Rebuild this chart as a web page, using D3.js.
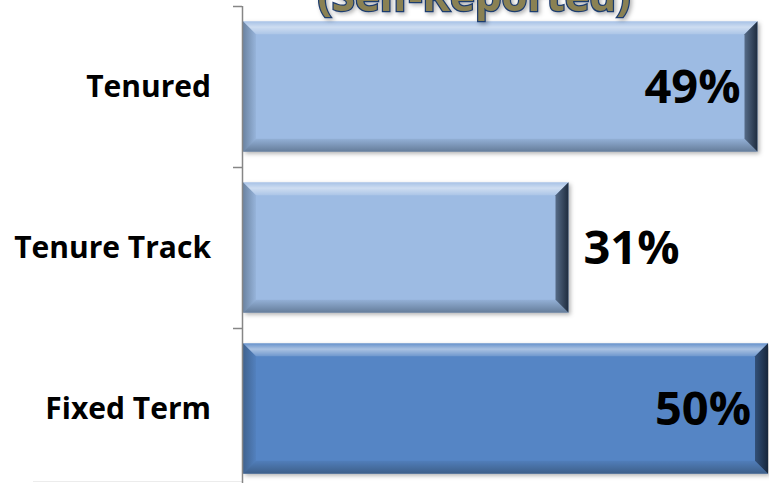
<!DOCTYPE html>
<meta charset="utf-8">
<style>
body { margin: 0; background: #fff; }
text { font-family: "Open Sans", sans-serif; font-weight: 700; }
</style>
<svg width="769" height="483"></svg>
<script src="https://d3js.org/d3.v7.min.js"></script>
<script>

var categories = ["Tenured", "Tenure Track", "Fixed Term"];
var values = [49, 31, 50];
var fills = ["#9dbbe3", "#9dbbe3", "#5585c5"];
var title = "(Self-Reported)";

var svg = d3.select("svg");

var x0 = 243;
var x = d3.scaleLinear()
    .domain([0, 50])
    .range([x0, x0 + 525]);

var y = d3.scaleBand()
    .domain(categories)
    .range([6, 489])
    .paddingInner(0.19)
    .paddingOuter(0.095);

var defs = svg.append("defs");

function grad(id, x1, y1, x2, y2, stops) {
  var g = defs.append("linearGradient").attr("id", id)
      .attr("x1", x1).attr("y1", y1).attr("x2", x2).attr("y2", y2);
  stops.forEach(function(s) {
    g.append("stop").attr("offset", s[0]).attr("stop-color", s[1]).attr("stop-opacity", s[2]);
  });
}
// bevel shading overlays
grad("bTop", 0, 0, 0, 1, [[0, "#ffffff", 0.1], [0.45, "#ffffff", 0.5], [1, "#ffffff", 0.15]]);
grad("bLeft", 0, 0, 1, 0, [[0, "#203040", 0.4], [1, "#203040", 0.05]]);
grad("bBottom", 0, 0, 0, 1, [[0, "#203040", 0.08], [1, "#203040", 0.45]]);
grad("bRight", 0, 0, 1, 0, [[0, "#101c2c", 0.5], [1, "#101c2c", 0.9]]);

var f = defs.append("filter").attr("id", "shadow")
    .attr("x", "-10%").attr("y", "-10%").attr("width", "130%").attr("height", "130%");
f.append("feDropShadow").attr("dx", 2).attr("dy", 2).attr("stdDeviation", 2)
    .attr("flood-color", "#000").attr("flood-opacity", 0.3);

// faint plot floor
svg.append("line")
    .attr("x1", 33).attr("x2", 242).attr("y1", 481.5).attr("y2", 481.5)
    .attr("stroke", "#ececec");

var b = 13; // bevel width

var bar = svg.selectAll(".bar")
  .data(categories)
  .enter().append("g")
    .attr("class", "bar");

bar.append("rect")
    .attr("x", x(0))
    .attr("y", function(d) { return y(d); })
    .attr("width", function(d, i) { return x(values[i]) - x(0); })
    .attr("height", y.bandwidth())
    .attr("fill", function(d, i) { return fills[i]; })
    .attr("filter", "url(#shadow)");

bar.each(function(d, i) {
  var g = d3.select(this),
      l = x(0), r = x(values[i]), t = y(d), btm = t + y.bandwidth();
  var pts = {
    bTop: [[l, t], [r, t], [r - b, t + b], [l + b, t + b]],
    bLeft: [[l, t], [l + b, t + b], [l + b, btm - b], [l, btm]],
    bBottom: [[l + b, btm - b], [r - b, btm - b], [r, btm], [l, btm]],
    bRight: [[r - b, t + b], [r, t], [r, btm], [r - b, btm - b]]
  };
  Object.keys(pts).forEach(function(k) {
    g.append("polygon")
        .attr("points", pts[k].map(function(p) { return p.join(","); }).join(" "))
        .attr("fill", "url(#" + k + ")");
  });
});

bar.append("text")
    .attr("x", function(d, i) { return values[i] >= 40 ? x(values[i]) - 17 : x(values[i]) + 15; })
    .attr("y", function(d) { return y(d) + y.bandwidth() / 2; })
    .attr("dy", "0.36em")
    .attr("text-anchor", function(d, i) { return values[i] >= 40 ? "end" : "start"; })
    .style("font-size", "47px")
    .attr("fill", "#000")
    .text(function(d, i) { return values[i] + "%"; });

// category axis
var axis = svg.append("g");
axis.append("line")
    .attr("x1", 242.5).attr("x2", 242.5).attr("y1", 6).attr("y2", 483)
    .attr("stroke", "#868686").attr("stroke-width", 1.5);

var bounds = categories.map(function(d) { return y(d) - y.step() * y.paddingInner() / 2; });
axis.selectAll(".tick")
  .data(bounds)
  .enter().append("line")
    .attr("x1", 233).attr("x2", 242)
    .attr("y1", function(d) { return Math.round(d) + 0.5; })
    .attr("y2", function(d) { return Math.round(d) + 0.5; })
    .attr("stroke", "#868686").attr("stroke-width", 1.5);

axis.selectAll(".label")
  .data(categories)
  .enter().append("text")
    .attr("x", 211)
    .attr("y", function(d) { return y(d) + y.bandwidth() / 2; })
    .attr("dy", "0.36em")
    .attr("text-anchor", "end")
    .style("font-size", "30px")
    .attr("fill", "#000")
    .text(function(d) { return d; });

// title (cut off by top edge)
svg.append("text")
    .attr("x", 474)
    .attr("y", 11)
    .attr("text-anchor", "middle")
    .style("font-size", "42px")
    .attr("fill", "#8a8152")
    .attr("stroke", "#1f3d6e")
    .attr("stroke-width", 2.5)
    .attr("paint-order", "stroke")
    .attr("filter", "url(#shadow)")
    .text(title);

</script>
